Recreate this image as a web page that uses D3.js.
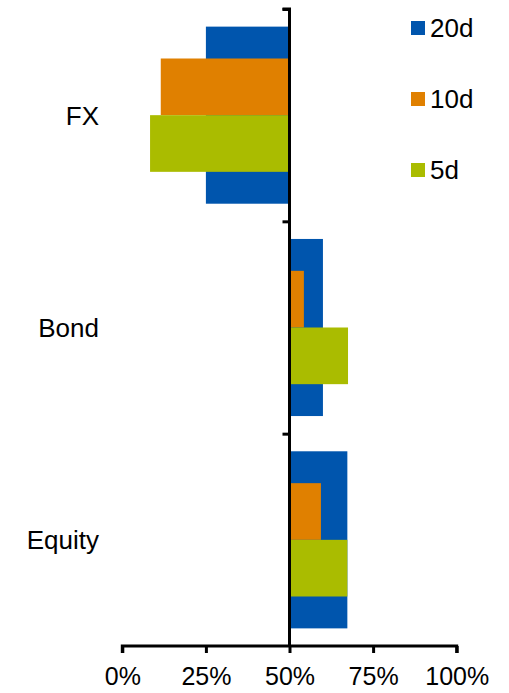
<!DOCTYPE html>
<html>
<head>
<meta charset="utf-8">
<script src="https://cdn.jsdelivr.net/npm/d3@7"></script>
<style>
  html, body { margin: 0; padding: 0; background: #fff; }
  svg { display: block; font-family: "Liberation Sans", Arial, sans-serif; }
</style>
</head>
<body>
<svg id="chart" width="509" height="693"></svg>
<script>
const categories = ["FX", "Bond", "Equity"];
const seriesNames = ["20d", "10d", "5d"];
const values20d = [25.0, 60.0, 67.3];
const values10d = [11.5, 54.3, 59.4];
const values5d = [8.3, 67.5, 67.3];
const xTicks = [0, 25, 50, 75, 100];
const colors = ["#0055AD", "#E08000", "#AABC00"];

const series = [values20d, values10d, values5d];
const svg = d3.select("#chart");

const x = d3.scaleLinear().domain([0, 100]).range([122.3, 456.7]);
const y = d3.scaleBand().domain(categories).range([9, 646]).paddingInner(0.166).paddingOuter(0.083);
const base = 50;

// bars
categories.forEach((cat, ci) => {
  const top = y(cat), bw = y.bandwidth();
  const specs = [
    {s: 0, y0: top, h: bw},
    {s: 1, y0: top + bw * 0.18, h: bw * 0.32},
    {s: 2, y0: top + bw * 0.5, h: bw * 0.32}
  ];
  specs.forEach(sp => {
    const v = series[sp.s][ci];
    svg.append("rect")
      .attr("x", Math.min(x(v), x(base)))
      .attr("y", sp.y0)
      .attr("width", Math.abs(x(v) - x(base)))
      .attr("height", sp.h)
      .attr("fill", colors[sp.s]);
  });
});

// category labels
svg.selectAll("text.cat").data(categories).enter().append("text")
  .attr("class", "cat")
  .attr("x", 99)
  .attr("y", d => y(d) + y.bandwidth() / 2)
  .attr("dy", "0.36em")
  .attr("text-anchor", "end")
  .attr("font-size", 26)
  .attr("fill", "#000")
  .text(d => d);

// x axis
const xAxis = d3.axisBottom(x).tickValues(xTicks).tickSize(7).tickPadding(14)
  .tickFormat(d => d + "%");
const gx = svg.append("g").attr("transform", "translate(0,646)").call(xAxis);
gx.select(".domain").attr("stroke", "#000").attr("stroke-width", 3)
  .attr("d", `M${x(0)},7V0H${x(100)}V7`);
gx.selectAll(".tick line").attr("stroke", "#000").attr("stroke-width", 3);
gx.selectAll(".tick text").attr("font-size", 25).attr("fill", "#000")
  .attr("font-family", "'Liberation Sans', Arial, sans-serif");

// y axis at 50%
const yl = d3.scaleLinear().domain([0, 3]).range([9, 646]);
const yAxis = d3.axisLeft(yl).tickValues([0, 1, 2]).tickSize(7).tickFormat("");
const gy = svg.append("g").attr("transform", `translate(${x(base)},0)`).call(yAxis);
gy.select(".domain").attr("stroke", "#000").attr("stroke-width", 3)
  .attr("d", `M-7,${yl(0)}H0V${yl(3)}`);
gy.selectAll(".tick line").attr("stroke", "#000").attr("stroke-width", 3);

// legend
const lg = svg.append("g");
seriesNames.forEach((n, i) => {
  const cy = 28 + i * 71;
  lg.append("rect").attr("x", 411).attr("y", cy - 7).attr("width", 14).attr("height", 14).attr("fill", colors[i]);
  lg.append("text").attr("x", 430).attr("y", cy).attr("dy", "0.36em")
    .attr("font-size", 26).attr("fill", "#000").text(n);
});
</script>
</body>
</html>
